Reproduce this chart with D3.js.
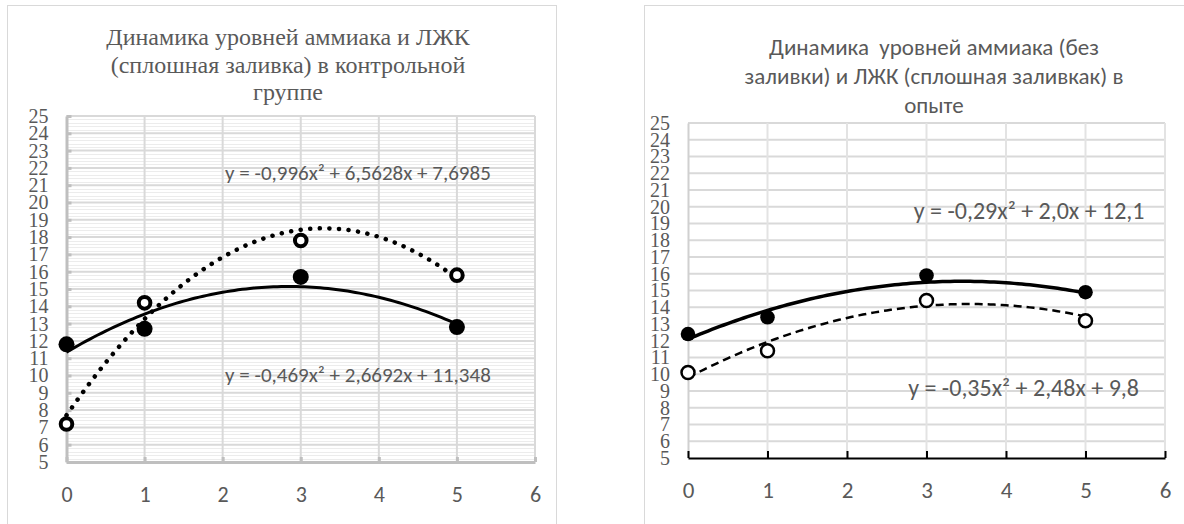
<!DOCTYPE html>
<html><head><meta charset="utf-8">
<script src="https://cdn.jsdelivr.net/npm/d3@7"></script>
</head><body style="margin:0"><svg id="c" width="1184" height="524"></svg>
<script>
// ---- data ----
const xTickLabels = [0, 1, 2, 3, 4, 5, 6];
const yTickLabels = d3.range(5, 26);
const days = [0, 1, 3, 5];
const controlVfa = [11.8, 12.7, 15.7, 12.8];       // filled markers
const controlAmmonia = [7.2, 14.2, 17.8, 15.8];    // open markers
const expVfa = [12.4, 13.4, 15.9, 14.9];
const expAmmonia = [10.1, 11.4, 14.4, 13.2];
const controlVfaTrend = [-0.469, 2.6692, 11.348];
const controlAmmoniaTrend = [-0.996, 6.5628, 7.6985];
const expVfaTrend = [-0.29, 2.0, 12.1];
const expAmmoniaTrend = [-0.35, 2.48, 9.8];
const controlTitle = ["Динамика уровней аммиака и ЛЖК", "(сплошная заливка) в контрольной", "группе"];
const expTitle = ["Динамика  уровней аммиака (без", "заливки) и ЛЖК (сплошная заливкак) в", "опыте"];
const controlEqs = ["y = -0,996x² + 6,5628x + 7,6985", "y = -0,469x² + 2,6692x + 11,348"];
const expEqs = ["y = -0,29x² + 2,0x + 12,1", "y = -0,35x² + 2,48x + 9,8"];

const svg = d3.select("#c");
const TXT = "#595959";
const SERIF = '"Liberation Serif"';
const SANS = '"Carlito"';

function poly(c, x) { return c[0] * x * x + c[1] * x + c[2]; }

function drawChart(cfg) {
  const g = svg.append("g");
  g.append("rect").attr("x", cfg.frame[0] + 0.5).attr("y", cfg.frame[1] + 0.5)
    .attr("width", cfg.frame[2]).attr("height", cfg.frame[3])
    .attr("fill", "#fff").attr("stroke", "#d9d9d9").attr("stroke-width", 1);

  const x = d3.scaleLinear().domain([0, 6]).range(cfg.xr);
  const y = d3.scaleLinear().domain([5, 25]).range(cfg.yr);

  if (cfg.minor) {
    const minorVals = d3.range(50, 250).filter(v => v % 10 !== 0 && v % 2 === 0).map(v => v / 10);
    g.append("g").selectAll("line").data(minorVals).join("line")
      .attr("x1", x(0)).attr("x2", x(6))
      .attr("y1", d => Math.round(y(d)) + 0.5).attr("y2", d => Math.round(y(d)) + 0.5)
      .attr("stroke", "#ececec").attr("stroke-width", 1);
  }
  g.append("g").selectAll("line").data(yTickLabels.filter(v => v > 5)).join("line")
    .attr("x1", x(0)).attr("x2", x(6))
    .attr("y1", d => y(d)).attr("y2", d => y(d))
    .attr("stroke", cfg.hGrid).attr("stroke-width", 2);
  g.append("g").selectAll("line").data(xTickLabels.filter(v => v > 0)).join("line")
    .attr("x1", d => x(d)).attr("x2", d => x(d))
    .attr("y1", y(5)).attr("y2", y(25))
    .attr("stroke", cfg.vGrid).attr("stroke-width", 2);

  const ya = g.append("g").attr("transform", `translate(${x(0)},0)`)
    .call(d3.axisLeft(y).tickValues(yTickLabels).tickFormat(d3.format("d"))
      .tickSizeInner(cfg.yTick).tickSizeOuter(0).tickPadding(18));
  ya.select(".domain").attr("stroke", cfg.yAxisColor).attr("stroke-width", cfg.yAxisWidth);
  ya.selectAll(".tick line").attr("stroke", cfg.yAxisColor).attr("stroke-width", cfg.yAxisWidth);
  ya.selectAll("text").attr("fill", TXT).attr("font-size", 20).style("font-family", SERIF);

  const xa = g.append("g").attr("transform", `translate(0,${y(5)})`)
    .call(d3.axisBottom(x).tickValues(xTickLabels).tickFormat(d3.format("d"))
      .tickSizeInner(cfg.xTick).tickSizeOuter(0).tickPadding(cfg.xPad));
  xa.select(".domain").attr("stroke", cfg.xAxisColor).attr("stroke-width", cfg.xAxisWidth);
  xa.selectAll(".tick line").attr("stroke", cfg.xAxisColor).attr("stroke-width", cfg.xAxisWidth);
  xa.selectAll("text").style("font-family", SANS).attr("font-size", cfg.xLabelSize).attr("fill", TXT);

  cfg.title.forEach((t, i) => {
    svg.append("text").attr("x", cfg.titleX).attr("y", cfg.titleY + i * cfg.titleStep)
      .style("font-family", cfg.titleFont)
      .attr("font-size", cfg.titleSize)
      .attr("text-anchor", "middle").attr("fill", TXT)
      .attr("xml:space", "preserve")
      .text(t);
  });

  const samples = d3.range(0, 5.0001, 0.05);
  const line = d3.line().x(d => x(d[0])).y(d => y(d[1]));
  cfg.series.forEach(s => {
    g.append("path").datum(samples.map(t => [t, poly(s.trend, t)]))
      .attr("d", line).attr("fill", "none").attr("stroke", "#000")
      .attr("stroke-width", s.lw).attr("stroke-dasharray", s.dash)
      .attr("stroke-linecap", s.cap);
  });
  cfg.series.forEach(s => {
    g.append("g").selectAll("circle").data(days.map((d, i) => [d, s.values[i]])).join("circle")
      .attr("cx", d => x(d[0])).attr("cy", d => y(d[1]))
      .attr("r", s.r).attr("fill", s.open ? "#fff" : "#000")
      .attr("stroke", "#000").attr("stroke-width", s.open ? s.msw : 0);
  });
  cfg.eqs.forEach((e, i) => {
    g.append("text").attr("x", x(cfg.eqPos[i][0])).attr("y", y(cfg.eqPos[i][1]))
      .attr("dy", "0.35em").style("font-family", SANS).attr("font-size", cfg.eqSize)
      .attr("fill", TXT).text(e);
  });
}

drawChart({
  frame: [7, 5, 549, 540],
  xr: [66.5, 535], yr: [462, 116],
  minor: true, hGrid: "#d9d9d9", vGrid: "#d9d9d9",
  yTick: -5, yAxisColor: "#bfbfbf", yAxisWidth: 3,
  xTick: -5, xAxisColor: "#bfbfbf", xAxisWidth: 3, xPad: 24, xLabelSize: 22,
  title: controlTitle, titleX: 288, titleY: 45, titleStep: 27.5, titleFont: SERIF, titleSize: 24,
  series: [
    { values: controlAmmonia, trend: controlAmmoniaTrend, open: true, r: 5.8, msw: 4, lw: 4.5, dash: "0.1 9.5", cap: "round" },
    { values: controlVfa, trend: controlVfaTrend, open: false, r: 8, lw: 3, dash: null, cap: "butt" }
  ],
  eqs: controlEqs, eqPos: [[2.03, 21.7], [2.03, 10.03]], eqSize: 21
});

drawChart({
  frame: [644, 5, 600, 540],
  xr: [688, 1165], yr: [458, 123],
  minor: false, hGrid: "#d9d9d9", vGrid: "#e3e3e3",
  yTick: 0, yAxisColor: "#d0d0d0", yAxisWidth: 2,
  xTick: -7, xAxisColor: "#000", xAxisWidth: 2, xPad: 24, xLabelSize: 23,
  title: expTitle, titleX: 934, titleY: 55, titleStep: 29, titleFont: SANS, titleSize: 23,
  series: [
    { values: expAmmonia, trend: expAmmoniaTrend, open: true, r: 6.5, msw: 2.5, lw: 2.5, dash: "8 5", cap: "butt" },
    { values: expVfa, trend: expVfaTrend, open: false, r: 7.3, lw: 3.5, dash: null, cap: "butt" }
  ],
  eqs: expEqs, eqPos: [[2.84, 19.8], [2.77, 9.18]], eqSize: 24
});
</script></body></html>
